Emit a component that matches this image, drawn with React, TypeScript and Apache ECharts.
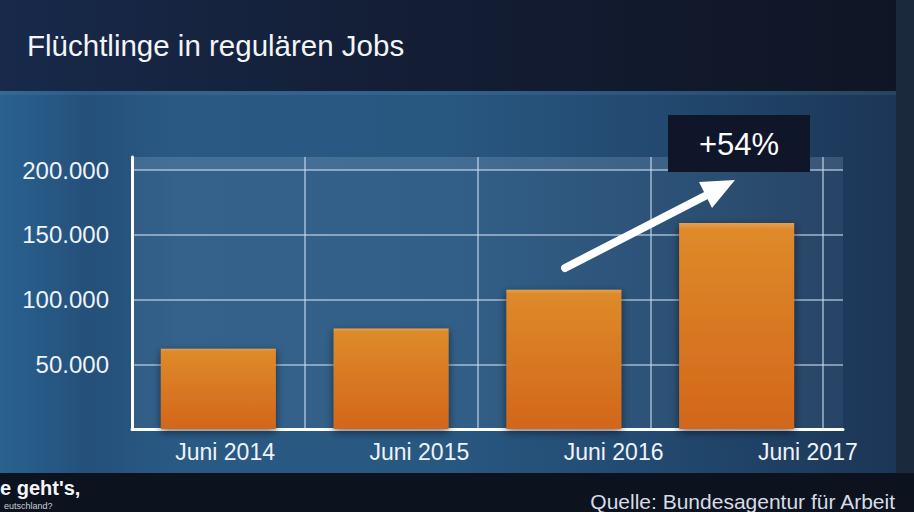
import React, { useEffect, useRef } from "react";
import * as echarts from "echarts";

const categories = ["Juni 2014", "Juni 2015", "Juni 2016", "Juni 2017"];
const jobs = [62000, 77500, 107500, 159000];
const yTicks = [50000, 100000, 150000, 200000];
const titleText = "Flüchtlinge in regulären Jobs";
const changeLabel = "+54%";
const sourceText = "Quelle: Bundesagentur für Arbeit";

const fmt = (v: number) => String(v).replace(/\B(?=(\d{3})+(?!\d))/g, ".");
const FONT = "Liberation Sans, Arial, Helvetica, sans-serif";

export default function App() {
  const ref = useRef<HTMLDivElement>(null);
  useEffect(() => {
    if (!ref.current) return;
    const chart = echarts.init(ref.current, null, { renderer: "svg" });
    const grid = "rgba(205,222,240,0.55)";
    chart.setOption({
      animation: false,
      backgroundColor: "#0c131f",
      title: {
        text: titleText,
        left: 27,
        top: 30,
        padding: 0,
        textStyle: { color: "#f2f5f9", fontSize: 29.5, fontWeight: "normal", fontFamily: FONT },
      },
      grid: [
        { left: 132, right: 71, top: 170, bottom: 83 },
        { left: 132, right: 91, top: 157, bottom: 83 },
        { left: 128, right: 9, top: 157, bottom: 83 },
      ],
      xAxis: [
        {
          gridIndex: 0, type: "value", min: 0, max: 1,
          axisLine: { show: true, lineStyle: { color: "#ffffff", width: 3 } },
          axisTick: { show: false }, axisLabel: { show: false }, splitLine: { show: false },
        },
        {
          gridIndex: 1, type: "category", data: categories,
          axisLine: { show: false }, axisTick: { show: false }, axisLabel: { show: false },
          splitLine: { show: true, lineStyle: { color: grid, width: 2 } },
        },
        {
          gridIndex: 2, type: "category", data: categories,
          axisLine: { show: false }, axisTick: { show: false }, splitLine: { show: false },
          axisLabel: { color: "#eef3f8", fontSize: 23, fontFamily: FONT, margin: 11 },
        },
      ],
      yAxis: [
        {
          gridIndex: 0, type: "value", min: 0, max: yTicks[yTicks.length - 1], interval: 50000,
          axisLine: { show: false }, axisTick: { show: false },
          axisLabel: {
            color: "#eef3f8", fontSize: 24, fontFamily: FONT, margin: 23,
            formatter: (v: number) => (yTicks.includes(v) ? fmt(v) : ""),
          },
          splitLine: { show: true, lineStyle: { color: grid, width: 2 } },
        },
        {
          gridIndex: 1, type: "value", min: 0, max: 210000,
          axisLine: { show: true, lineStyle: { color: "#ffffff", width: 3 } },
          axisTick: { show: false }, axisLabel: { show: false }, splitLine: { show: false },
        },
        {
          gridIndex: 2, type: "value", min: 0, max: 210000, show: false,
        },
      ],
      series: [
        {
          type: "bar",
          xAxisIndex: 1,
          yAxisIndex: 1,
          data: jobs,
          barWidth: 115,
          z: 3,
          itemStyle: {
            color: new echarts.graphic.LinearGradient(0, 0, 0, 1, [
              { offset: 0, color: "#e6a050" },
              { offset: 0.03, color: "#de8a2a" },
              { offset: 1, color: "#d2661b" },
            ]),
            shadowColor: "rgba(0,0,0,0.55)",
            shadowBlur: 8,
            shadowOffsetY: 3,
          },
        },
      ],
      graphic: [
        { type: "rect", z: -10, silent: true, shape: { x: 0, y: 0, width: 914, height: 91 },
          style: { fill: new echarts.graphic.LinearGradient(0, 0, 1, 0, [
            { offset: 0, color: "#18294a" }, { offset: 0.5, color: "#131d33" }, { offset: 1, color: "#0f1524" }]) } },
        { type: "rect", z: -10, silent: true, shape: { x: 0, y: 91, width: 896, height: 382 },
          style: { fill: new echarts.graphic.LinearGradient(0, 0, 1, 0, [
            { offset: 0, color: "#2a6190" }, { offset: 0.1, color: "#24507a" }, { offset: 0.2, color: "#2a5a84" },
            { offset: 0.5, color: "#285780" }, { offset: 0.75, color: "#22486e" }, { offset: 1, color: "#1c3656" }]) } },
        { type: "rect", z: -10, silent: true, shape: { x: 896, y: 0, width: 18, height: 473 },
          style: { fill: "#1a2a3c" } },
        { type: "rect", z: -9, silent: true, shape: { x: 0, y: 91, width: 896, height: 4 },
          style: { fill: "rgba(120,170,215,0.12)" } },
        { type: "rect", z: -8, silent: true, shape: { x: 132, y: 157, width: 711, height: 272 },
          style: { fill: "rgba(190,215,240,0.07)" } },
        { type: "rect", z: -8, silent: true, shape: { x: 132, y: 157, width: 711, height: 13 },
          style: { fill: "rgba(190,215,240,0.12)" } },
        { type: "line", z: 50, silent: true, shape: { x1: 565, y1: 268, x2: 707, y2: 195 },
          style: { stroke: "#ffffff", lineWidth: 8, lineCap: "round" } },
        { type: "polygon", z: 50, silent: true, shape: { points: [[735, 180], [712, 208], [699, 182]] },
          style: { fill: "#ffffff" } },
        { type: "rect", z: 50, silent: true, shape: { x: 668, y: 115, width: 142, height: 57 },
          style: { fill: "#10162a" } },
        { type: "text", z: 51, silent: true, x: 739, y: 144,
          style: { text: changeLabel, fill: "#ffffff", fontSize: 31, fontFamily: FONT, align: "center", verticalAlign: "middle" } },
        { type: "text", z: 51, silent: true, x: 895, y: 501,
          style: { text: sourceText, fill: "#d6dce4", fontSize: 21, fontFamily: FONT, align: "right", verticalAlign: "middle" } },
        { type: "text", z: 51, silent: true, x: 0, y: 488,
          style: { text: "e geht's,", fill: "#f4f6f9", fontSize: 20, fontWeight: "bold", fontFamily: FONT, align: "left", verticalAlign: "middle" } },
        { type: "text", z: 51, silent: true, x: 4, y: 506,
          style: { text: "eutschland?", fill: "#c8ced6", fontSize: 9, fontFamily: FONT, align: "left", verticalAlign: "middle" } },
      ],
    });
    return () => chart.dispose();
  }, []);
  return (
    <div
      ref={ref}
      style={{ position: "fixed", left: 0, top: 0, width: 914, height: 512 }}
    />
  );
}
